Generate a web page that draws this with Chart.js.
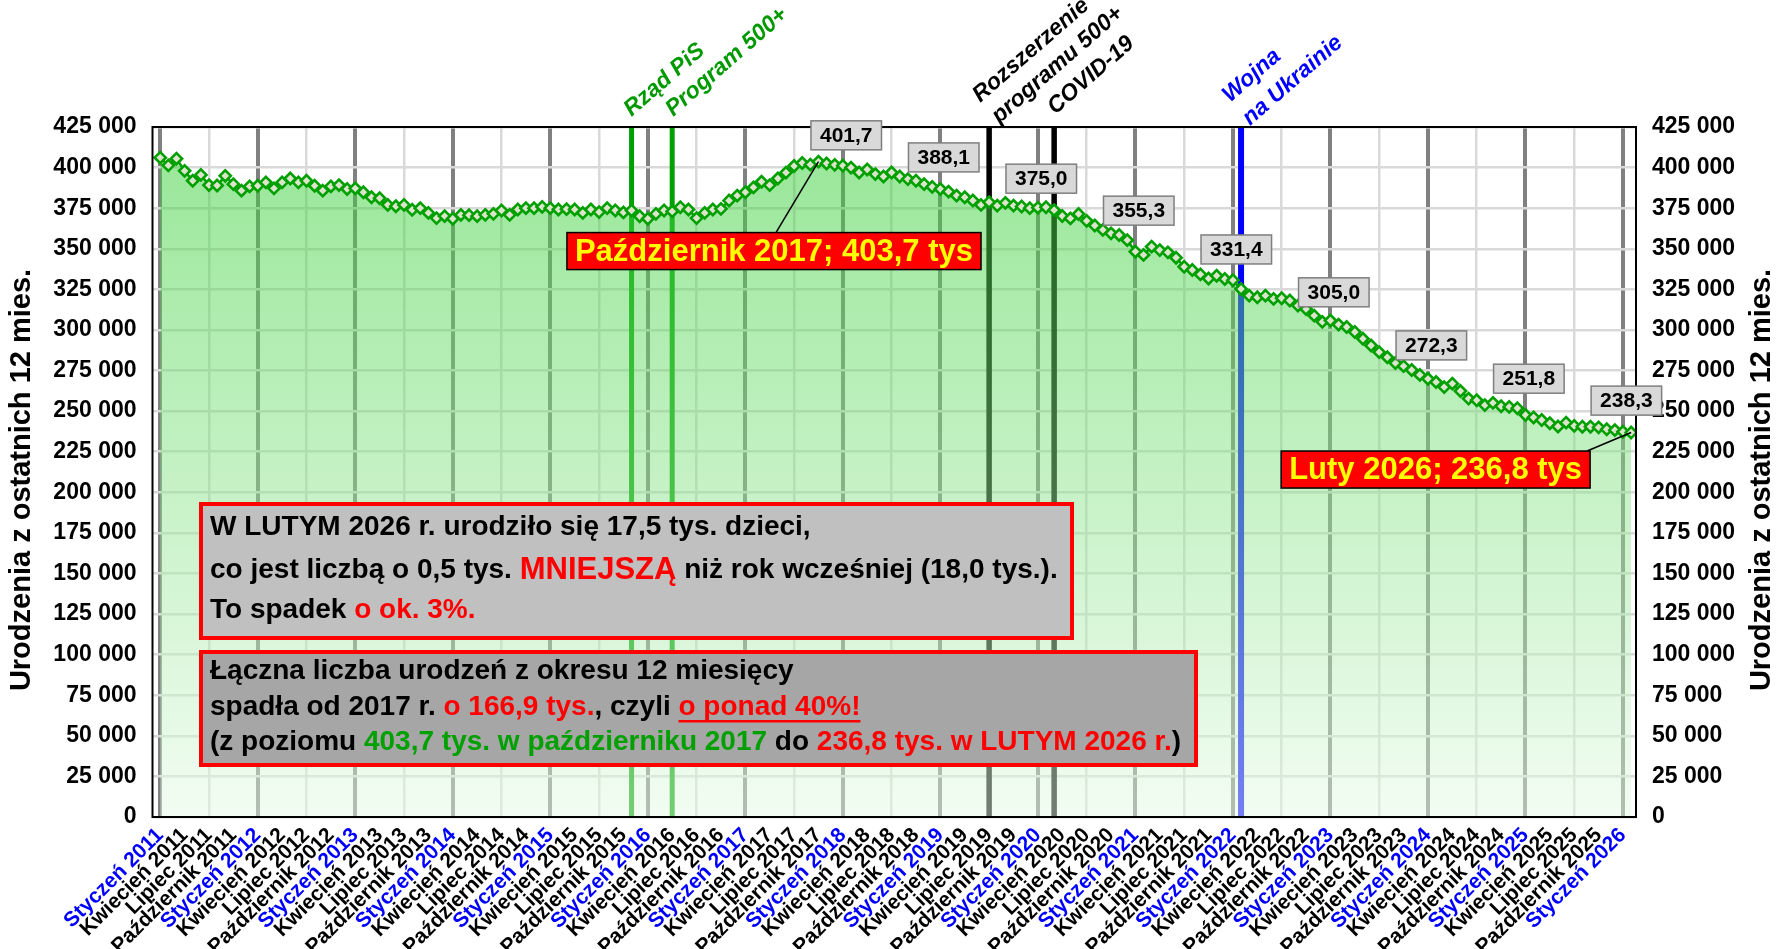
<!DOCTYPE html>
<html lang="pl">
<head>
<meta charset="utf-8">
<title>Urodzenia w Polsce – suma z ostatnich 12 miesięcy</title>
<script src="https://cdn.jsdelivr.net/npm/chart.js@4.4.1/dist/chart.umd.min.js"></script>
<style>
  html, body { margin: 0; padding: 0; background: #ffffff; }
  #wrap { width: 1777px; height: 949px; position: relative; }
  canvas { display: block; }
</style>
</head>
<body>
<div id="wrap"><canvas id="births" width="1777" height="949"></canvas></div>
<script>
// ---- data -------------------------------------------------------------
const monthNames = ['Styczeń', 'Luty', 'Marzec', 'Kwiecień', 'Maj', 'Czerwiec',
  'Lipiec', 'Sierpień', 'Wrzesień', 'Październik', 'Listopad', 'Grudzień'];
const firstYear = 2011;

// births over the last 12 months, thousands, Jan 2011 .. Feb 2026
const rolling12 = [
  406.1, 401.4, 405.5, 398.0, 391.9, 395.5, 389.2, 389.0, 394.9, 389.8, 385.8, 388.4, // 2011
  388.8, 390.9, 387.2, 390.9, 393.3, 390.9, 391.9, 388.8, 385.8, 388.4, 389.2, 386.8, // 2012
  387.2, 384.8, 381.7, 381.1, 377.0, 376.2, 377.0, 374.0, 375.0, 372.1, 368.9, 370.1, // 2013
  368.5, 370.9, 370.7, 370.1, 370.9, 371.5, 373.6, 370.9, 374.2, 375.0, 375.0, 375.8, // 2014
  375.0, 374.2, 374.4, 374.2, 372.1, 374.2, 372.6, 375.0, 373.6, 372.4, 373.6, 370.0, // 2015
  368.5, 371.5, 373.6, 373.0, 375.6, 374.2, 368.9, 372.1, 374.2, 374.6, 379.7, 382.7, // 2016
  384.8, 387.8, 391.3, 389.2, 393.3, 396.9, 401.0, 402.8, 401.8, 403.7, 402.5, 401.7, // 2017
  401.2, 400.0, 397.0, 398.8, 396.0, 394.5, 397.0, 394.5, 392.9, 391.9, 389.8, 388.1, // 2018
  386.8, 385.2, 382.7, 381.7, 379.7, 377.0, 378.7, 376.6, 378.3, 376.6, 376.0, 375.0, // 2019
  375.3, 375.6, 373.8, 370.2, 368.7, 371.4, 367.2, 364.3, 361.6, 359.5, 358.5, 355.3, // 2020
  348.2, 346.2, 351.3, 349.2, 347.8, 344.5, 338.9, 336.9, 334.2, 331.7, 333.4, 331.4, // 2021
  330.6, 325.2, 321.1, 320.1, 321.1, 319.1, 319.5, 318.1, 315.0, 312.9, 308.8, 305.0, // 2022
  305.8, 303.3, 301.8, 298.7, 294.6, 290.4, 286.3, 283.2, 279.6, 277.7, 275.3, 272.3, // 2023
  269.9, 267.9, 264.8, 266.9, 262.4, 257.7, 256.7, 253.7, 255.1, 253.0, 252.6, 251.8, // 2024
  247.6, 246.1, 244.5, 242.5, 240.5, 242.9, 240.9, 240.4, 240.4, 240.0, 238.8, 238.3, // 2025
  237.3, 236.8                                                                        // 2026
];

// births in February (thousands): 2025, 2026
const februaryBirths = [18.0, 17.5];

// December points that carry a value box
const labelledIdx = [83, 95, 107, 119, 131, 143, 155, 167, 179];
const peakIdx = 81;                       // Październik 2017
const lastIdx = rolling12.length - 1;     // Luty 2026

// x-axis tick months (every third month) and their labels
const tickIdx = [];
for (let m = 0; m <= 180; m += 3) tickIdx.push(m);
const tickLabels = tickIdx.map(m => monthNames[m % 12] + ' ' + (firstYear + Math.floor(m / 12)));

// y-axis ticks (thousands)
const yMax = 425, yStep = 25;

// marked events: month index, colour, bar width
const eventIdx   = [58, 63, 102, 110, 133];
const eventColor = ['#00a000', '#00a000', '#000000', '#000000', '#0000ff'];
const eventWidth = [5, 5, 5.5, 5.5, 6];

// ---- helpers ------------------------------------------------------------
const FAMILY = "'Liberation Sans', Arial, Helvetica, sans-serif";
const fmt1 = v => v.toFixed(1).replace('.', ',');
const fmtInt = n => String(Math.round(n)).replace(/\B(?=(\d{3})+(?!\d))/g, ' ');
const monthLabel = m => monthNames[m % 12] + ' ' + (firstYear + Math.floor(m / 12));

Chart.defaults.font.family = FAMILY;
Chart.defaults.color = '#000000';

function drawRuns(ctx, runs, x, y) {
  for (const r of runs) {
    ctx.font = r.font;
    ctx.fillStyle = r.color;
    ctx.fillText(r.text, x, y);
    const w = ctx.measureText(r.text).width;
    if (r.underline) ctx.fillRect(x, y + 13, w, 2.5);
    x += w;
  }
}

let fillGradient = null;
function areaFill(context) {
  const chart = context.chart, a = chart.chartArea;
  if (!a) return 'rgba(60,205,60,0.5)';
  if (!fillGradient) {
    fillGradient = chart.ctx.createLinearGradient(0, a.top, 0, a.bottom);
    fillGradient.addColorStop(0, 'rgba(45,205,45,0.5)');
    fillGradient.addColorStop(1, 'rgba(230,250,230,0.5)');
  }
  return fillGradient;
}

// ---- annotations ----------------------------------------------------------
const decor = {
  id: 'decor',
  beforeDatasetsDraw(chart) {
    const { ctx, chartArea: a } = chart;
    const xs = chart.scales.x;
    ctx.save();
    eventIdx.forEach((m, i) => {
      const px = xs.getPixelForValue(m);
      ctx.fillStyle = eventColor[i];
      ctx.fillRect(px - eventWidth[i] / 2, a.top, eventWidth[i], a.bottom - a.top);
    });
    ctx.restore();
  },
  afterDatasetsDraw(chart) {
    const { ctx, chartArea: a } = chart;
    const xs = chart.scales.x, ys = chart.scales.y;
    ctx.save();

    // plot frame
    ctx.strokeStyle = '#000000';
    ctx.lineWidth = 2;
    ctx.strokeRect(a.left, a.top, a.right - a.left, a.bottom - a.top);

    // December value boxes
    ctx.font = `bold 21px ${FAMILY}`;
    ctx.textAlign = 'center';
    ctx.textBaseline = 'middle';
    labelledIdx.forEach(i => {
      const px = xs.getPixelForValue(i), py = ys.getPixelForValue(rolling12[i]);
      const t = fmt1(rolling12[i]);
      const w = ctx.measureText(t).width + 18, h = 29;
      const cx = px + 11.5, cy = py - 29.5;
      ctx.fillStyle = '#d9d9d9';
      ctx.fillRect(cx - w / 2, cy - h / 2, w, h);
      ctx.strokeStyle = '#7f7f7f';
      ctx.lineWidth = 1.5;
      ctx.strokeRect(cx - w / 2, cy - h / 2, w, h);
      ctx.fillStyle = '#000000';
      ctx.fillText(t, cx, cy + 1);
    });

    // red call-outs
    const callout = (i, text, dx, dy, lineFromRight) => {
      const px = xs.getPixelForValue(i), py = ys.getPixelForValue(rolling12[i]);
      ctx.font = `bold 31px ${FAMILY}`;
      const w = ctx.measureText(text).width + 16, h = 37;
      const cx = px + dx, cy = py + dy;
      const bx = cx - w / 2, by = cy - h / 2;
      ctx.strokeStyle = '#000000';
      ctx.lineWidth = 1.5;
      ctx.beginPath();
      ctx.moveTo(lineFromRight ? bx + w - 3 : cx + 2, by);
      ctx.lineTo(px, py);
      ctx.stroke();
      ctx.fillStyle = '#ff0000';
      ctx.fillRect(bx, by, w, h);
      ctx.strokeRect(bx, by, w, h);
      ctx.fillStyle = '#ffff00';
      ctx.textAlign = 'center';
      ctx.fillText(text, cx, cy + 1);
    };
    callout(peakIdx, `${monthLabel(peakIdx)}; ${fmt1(rolling12[peakIdx])} tys`, -44.5, 89.5, false);
    callout(lastIdx, `${monthLabel(lastIdx)}; ${fmt1(rolling12[lastIdx])} tys`, -195.5, 37, true);

    // summary boxes
    const fN = `bold 28px ${FAMILY}`, fB = `bold 31px ${FAMILY}`;
    const K = '#000000', R = '#ff0000', G = '#00a000';
    const peak = rolling12[peakIdx], last = rolling12[lastIdx];
    const febDiff = februaryBirths[0] - februaryBirths[1];
    const febPct = Math.round(febDiff / februaryBirths[0] * 100);
    const drop = peak - last;

    ctx.lineWidth = 4;
    ctx.strokeStyle = '#ff0000';
    ctx.fillStyle = '#c0c0c0';
    ctx.fillRect(201, 504, 871, 134);
    ctx.strokeRect(201, 504, 871, 134);
    ctx.fillStyle = '#a6a6a6';
    ctx.fillRect(201, 652, 995, 113);
    ctx.strokeRect(201, 652, 995, 113);

    ctx.textAlign = 'left';
    ctx.textBaseline = 'middle';
    drawRuns(ctx, [{ text: `W LUTYM 2026 r. urodziło się ${fmt1(februaryBirths[1])} tys. dzieci,`, font: fN, color: K }], 210, 527);
    drawRuns(ctx, [
      { text: `co jest liczbą o ${fmt1(febDiff)} tys. `, font: fN, color: K },
      { text: 'MNIEJSZĄ', font: fB, color: R },
      { text: ` niż rok wcześniej (${fmt1(februaryBirths[0])} tys.).`, font: fN, color: K }
    ], 210, 570);
    drawRuns(ctx, [
      { text: 'To spadek ', font: fN, color: K },
      { text: `o ok. ${febPct}%.`, font: fN, color: R }
    ], 210, 610);

    drawRuns(ctx, [{ text: 'Łączna liczba urodzeń z okresu 12 miesięcy', font: fN, color: K }], 210, 671);
    drawRuns(ctx, [
      { text: 'spadła od 2017 r. ', font: fN, color: K },
      { text: `o ${fmt1(drop)} tys.`, font: fN, color: R },
      { text: ', czyli ', font: fN, color: K },
      { text: 'o ponad 40%!', font: fN, color: R, underline: true }
    ], 210, 707);
    drawRuns(ctx, [
      { text: '(z poziomu ', font: fN, color: K },
      { text: `${fmt1(peak)} tys. w październiku 2017`, font: fN, color: G },
      { text: ' do ', font: fN, color: K },
      { text: `${fmt1(last)} tys. w LUTYM 2026 r.`, font: fN, color: R },
      { text: ')', font: fN, color: K }
    ], 210, 742);

    ctx.restore();
  },
  afterDraw(chart) {
    const { ctx } = chart;
    const xs = chart.scales.x;
    ctx.save();

    // event notes, slanted
    const notes = [
      { ev: 0, text: 'Rząd PiS',      dx: 0,   y: 117, color: '#009a00' },
      { ev: 1, text: 'Program 500+',  dx: 1,   y: 117, color: '#009a00' },
      { ev: 2, text: 'Rozszerzenie',  dx: -9,  y: 103, color: '#000000' },
      { ev: 2, text: 'programu 500+', dx: 10,  y: 124, color: '#000000' },
      { ev: 3, text: 'COVID-19',      dx: 1,   y: 115, color: '#000000' },
      { ev: 4, text: 'Wojna',         dx: -11, y: 103, color: '#0000ff' },
      { ev: 4, text: 'na Ukrainie',   dx: 9,   y: 126, color: '#0000ff' }
    ];
    ctx.font = `italic bold 23px ${FAMILY}`;
    ctx.textAlign = 'left';
    ctx.textBaseline = 'alphabetic';
    notes.forEach(n => {
      const px = xs.getPixelForValue(eventIdx[n.ev]) + n.dx;
      ctx.save();
      ctx.translate(px, n.y);
      ctx.rotate(-41 * Math.PI / 180);
      ctx.fillStyle = n.color;
      ctx.fillText(n.text, 0, 0);
      ctx.restore();
    });

    // axis titles
    ctx.font = `bold 29px ${FAMILY}`;
    ctx.fillStyle = '#000000';
    ctx.textAlign = 'center';
    ctx.textBaseline = 'middle';
    [22, 1762].forEach(x => {
      ctx.save();
      ctx.translate(x, 480);
      ctx.rotate(-Math.PI / 2);
      ctx.fillText('Urodzenia z ostatnich 12 mies.', 0, 0);
      ctx.restore();
    });
    ctx.restore();
  }
};

// ---- chart ------------------------------------------------------------------
const points = rolling12.map((v, i) => ({ x: i, y: v }));

const yTickOpts = {
  stepSize: yStep,
  padding: 16,
  color: '#000000',
  font: { size: 23, weight: 'bold' },
  callback: v => fmtInt(v * 1000)
};

new Chart(document.getElementById('births'), {
  type: 'line',
  data: {
    datasets: [{
      data: points,
      borderColor: '#00a000',
      borderWidth: 2.5,
      backgroundColor: areaFill,
      fill: 'origin',
      tension: 0,
      pointStyle: 'rectRot',
      pointRadius: 5.6,
      pointBorderWidth: 2.6,
      pointBorderColor: '#00a000',
      pointBackgroundColor: '#dde4cc'
    }]
  },
  options: {
    responsive: false,
    animation: false,
    devicePixelRatio: 1,
    layout: { padding: { top: 127, left: 0, right: 0, bottom: 0 } },
    plugins: { legend: { display: false }, tooltip: { enabled: false } },
    scales: {
      x: {
        type: 'linear',
        min: -0.95,
        max: 181.6,
        afterBuildTicks: s => { s.ticks = tickIdx.map(v => ({ value: v })); },
        afterFit: s => { s.height = 132; },
        ticks: {
          autoSkip: false,
          minRotation: 45,
          maxRotation: 45,
          padding: 6,
          font: { size: 21, weight: 'bold' },
          color: c => (c.tick && c.tick.value % 12 === 0) ? '#0000ff' : '#000000',
          callback: (v) => tickLabels[tickIdx.indexOf(v)]
        },
        grid: {
          drawTicks: false,
          color: c => {
            const v = c.tick ? c.tick.value : -1;
            if (v % 12 === 0) return '#808080';
            if (v % 12 === 6) return '#d9d9d9';
            return 'rgba(0,0,0,0)';
          },
          lineWidth: c => {
            const v = c.tick ? c.tick.value : -1;
            if (v % 12 === 0) return 4;
            if (v % 12 === 6) return 2.5;
            return 0;
          }
        },
        border: { display: false }
      },
      y: {
        type: 'linear',
        position: 'left',
        min: 0,
        max: yMax,
        afterFit: s => { s.width = 152.5; },
        ticks: yTickOpts,
        grid: { color: '#d9d9d9', lineWidth: 2.5, drawTicks: false },
        border: { display: false }
      },
      y2: {
        type: 'linear',
        position: 'right',
        min: 0,
        max: yMax,
        afterFit: s => { s.width = 141; },
        ticks: yTickOpts,
        grid: { display: false, drawTicks: false },
        border: { display: false }
      }
    }
  },
  plugins: [decor]
});
</script>
</body>
</html>
